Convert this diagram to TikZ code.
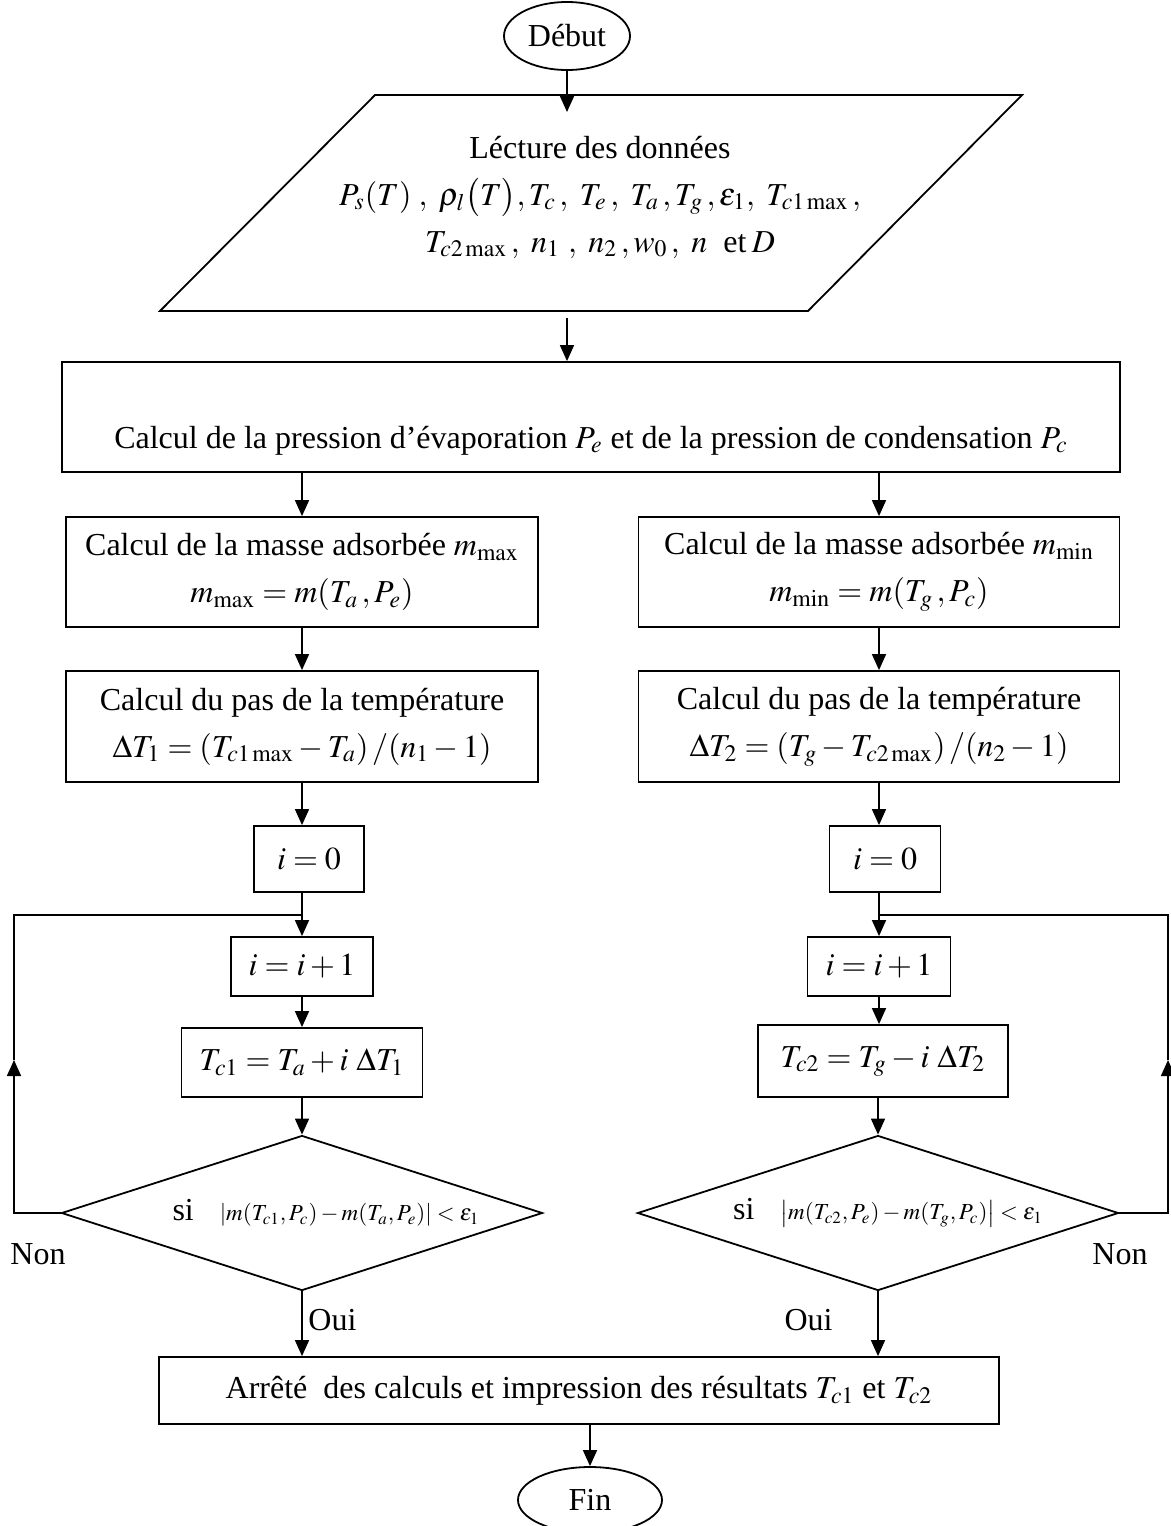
\documentclass[tikz,border=0pt]{standalone}
\usepackage{mathptmx}
\usepackage[no-math]{fontspec}
\setmainfont{Liberation Serif}
\usetikzlibrary{arrows.meta,shapes.geometric}
\tikzset{
  fbox/.style={draw,line width=0.9pt,inner sep=2pt,align=center},
  fterm/.style={draw,ellipse,line width=0.9pt,inner sep=0pt},
  fio/.style={align=center,inner sep=0pt},
  fcond/.style={draw,diamond,shape aspect=3.1,line width=0.9pt,inner sep=0pt,
    minimum width=240.5pt,minimum height=77.5pt},
  farr/.style={-{Triangle[length=8pt,width=7pt]},line width=0.8pt},
  flab/.style={inner sep=0pt},
}
\newcommand{\fsmall}{\fontsize{11.5}{14}\selectfont}
\begin{document}
\begin{tikzpicture}[x=0.5pt,y=-0.5pt,font=\fontsize{16}{23.5}\selectfont]
\useasboundingbox (0,0) rectangle (1171,1526);
% ---- start, data input, pressures
\node[fterm,minimum width=63pt,minimum height=34pt] (debut) at (567,36) {Début};
\node[fio] (lect) at (600,197)
  {Lécture des données\\
   $P_s(T)\;,\ \rho_l\bigl(T\bigr),T_c\,,\ T_e\,,\ T_a\,,T_g\,,\varepsilon_1,\ T_{c1\max}\,,$\\
   $T_{c2\max}\,,\ n_1\ ,\ n_2\,,w_0\,,\ n\ $ et\,$D$};
\draw[line width=0.9pt] (375,95) -- (1022,95) -- (808,311) -- (160,311) -- cycle;
\coordinate (lectin) at (567,112);
\coordinate (lectout) at (567,318);
\node[fbox,minimum width=529pt,minimum height=55pt,text height=40pt,text depth=9pt] (calcP) at (591,417)
  {Calcul de la pression d'évaporation\ $P_e$\ et de la pression de condensation\ $P_c$};
% ---- left column: adsorbed mass max, T_c1 loop
\node[fbox,minimum width=236pt,minimum height=55pt] (mmax) at (302,572)
  {Calcul de la masse adsorbée\ $m_{\max}$\\ $m_{\max}=m(T_a\,,P_e)$};
\node[fbox,minimum width=236pt,minimum height=55.5pt] (pas1) at (302,726.5)
  {Calcul du pas de la température\\ $\Delta T_1=(T_{c1\max}-T_a)\,/(n_1-1)$};
\node[fbox,minimum width=55pt,minimum height=33pt] (init1) at (309,859) {$i=0$};
\node[fbox,minimum width=71pt,minimum height=29.5pt] (incr1) at (302,966.5) {$i=i+1$};
\node[fbox,minimum width=120.5pt,minimum height=34.5pt] (tc1) at (302,1062.5) {$T_{c1}=T_a+i\ \Delta T_1$};
\node[fcond] (cond1) at (302,1213)
  {\hspace{24pt}si\hspace{13pt}\fsmall$\left|m(T_{c1},P_c)-m(T_a,P_e)\right|<\varepsilon_1$};
% ---- right column: adsorbed mass min, T_c2 loop
\node[fbox,minimum width=240.5pt,minimum height=55pt] (mmin) at (879,572)
  {Calcul de la masse adsorbée\ $m_{\min}$\\ $m_{\min}=m(T_g\,,P_c)$};
\node[fbox,minimum width=240.5pt,minimum height=55.5pt] (pas2) at (879,726.5)
  {Calcul du pas de la température\\ $\Delta T_2=(T_g-T_{c2\max})\,/(n_2-1)$};
\node[fbox,minimum width=55.5pt,minimum height=33pt] (init2) at (885,859) {$i=0$};
\node[fbox,minimum width=71.5pt,minimum height=29.5pt] (incr2) at (879,966.5) {$i=i+1$};
\node[fbox,minimum width=125pt,minimum height=36pt] (tc2) at (883,1061) {$T_{c2}=T_g-i\ \Delta T_2$};
\node[fcond] (cond2) at (878,1213)
  {\hspace{10pt}si\hspace{13pt}\fsmall$\left|m(T_{c2},P_e)-m(T_g,P_c)\right|<\varepsilon_1$};
% ---- end
\node[fbox,minimum width=420pt,minimum height=33.5pt] (stop) at (579,1390.5)
  {Arrêté\ \ des calculs et impression des résultats $T_{c1}$\ et\ $T_{c2}$};
\node[fterm,minimum width=72pt,minimum height=33pt] (fin) at (590,1500) {Fin};
% ---- labels
\node[flab] (non1) at (38,1254) {Non};
\node[flab] (non2) at (1120,1254) {Non};
\node[flab,anchor=west] (oui1) at (308,1320) {Oui};
\node[flab,anchor=east] (oui2) at (833,1320) {Oui};
% ---- main flow
\draw[farr] (debut) -- (lectin);
\draw[farr] (lectout) -- (lectout |- calcP.north);
\draw[farr] (calcP.south -| mmax) -- (mmax);
\draw[farr] (calcP.south -| mmin) -- (mmin);
\draw[farr] (mmax) -- (pas1);
\draw[farr] (mmin) -- (pas2);
\draw[farr] (pas1.south) -- (pas1.south |- init1.north);
\draw[farr] (pas2.south) -- (pas2.south |- init2.north);
\draw[farr] (init1.south -| incr1) -- (incr1);
\draw[farr] (init2.south -| incr2) -- (incr2);
\draw[farr] (incr1) -- (tc1);
\draw[farr] (incr2) -- (tc2.north -| incr2);
\draw[farr] (tc1) -- (cond1);
\draw[farr] (tc2.south -| cond2) -- (cond2);
\draw[farr] (cond1.south) -- (cond1.south |- stop.north);
\draw[farr] (cond2.south) -- (cond2.south |- stop.north);
\draw[farr] (stop.south -| fin) -- (fin);
% ---- loops back (Non)
\coordinate (upL) at (14,1060);
\coordinate (joinL) at (302,915);
\coordinate (upR) at (1168,1060);
\coordinate (joinR) at (879,915);
\draw[farr] (cond1.west) -| (upL);
\draw[line width=0.8pt] (upL) |- (joinL);
\draw[farr] (cond2.east) -| (upR);
\draw[line width=0.8pt] (upR) |- (joinR);
\end{tikzpicture}
\end{document}
